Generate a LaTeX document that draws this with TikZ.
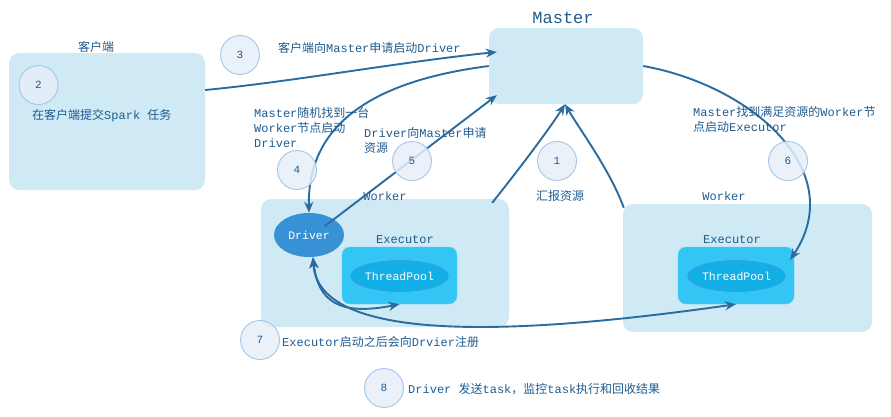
\documentclass[tikz,border=0pt]{standalone}
\usepackage{fontspec}
\setmainfont{Liberation Mono}
\newfontfamily\cjkf{Noto Sans CJK SC}
\newcommand\zh[1]{{\cjkf #1}}
\usetikzlibrary{arrows.meta,shapes.geometric}
\definecolor{boxc}{HTML}{CFE9F5}
\definecolor{execc}{HTML}{33C6F4}
\definecolor{poolc}{HTML}{12AEE6}
\definecolor{poolb}{HTML}{3C9BDA}
\definecolor{drvc}{HTML}{3891D5}
\definecolor{circf}{HTML}{E6EEF8}
\definecolor{circb}{HTML}{A4C6EA}
\definecolor{txtc}{HTML}{1F5C8F}
\definecolor{arrc}{HTML}{2A6CA0}
\tikzset{
  tip/.tip={Stealth[length=11pt,width=9pt]},
  lbox/.style={fill=boxc, rounded corners=10pt, inner sep=0pt},
  exbox/.style={fill=execc, draw=execc!80!white, rounded corners=8pt, inner sep=0pt},
  pool/.style={ellipse, fill=poolc, draw=poolb, line width=0.6pt, inner sep=0pt, minimum width=95pt, minimum height=31pt, text=white, font=\fontsize{11.5}{13}\selectfont},
  drv/.style={ellipse, fill=drvc, inner sep=0pt, minimum width=70pt, minimum height=44pt, text=white, font=\fontsize{11.5}{13}\selectfont},
  num/.style={circle, fill=circf, fill opacity=0.85, text opacity=1, draw=circb, line width=0.9pt, minimum size=39pt, inner sep=0pt, text=txtc, font=\fontsize{11}{12}\selectfont},
  lbl/.style={text=txtc, inner sep=0pt, font=\fontsize{12}{15}\selectfont},
  mlbl/.style={lbl, align=left, anchor=north west},
  conn/.style={draw=arrc, line width=1.9pt, -tip},
  conn2/.style={draw=arrc, line width=1.9pt, tip-tip},
}
\begin{document}
\begin{tikzpicture}[x=1pt,y=-1pt]
\useasboundingbox (0,0) rectangle (891,416);
% boxes
\node[lbox, minimum width=196pt, minimum height=137pt] (client) at (107,121.5) {};
\node[lbox, minimum width=154pt, minimum height=76pt] (master) at (566,66) {};
\node[lbox, minimum width=248pt, minimum height=128pt] (worker1) at (385,263) {};
\node[lbox, minimum width=249pt, minimum height=128pt] (worker2) at (747.5,268) {};
\node[exbox, minimum width=115pt, minimum height=57pt] (exec1) at (399.5,275.5) {};
\node[exbox, minimum width=116pt, minimum height=57pt] (exec2) at (736,275.5) {};
\node[pool] (pool1) at (399.5,276) {ThreadPool};
\node[pool] (pool2) at (736.5,276) {ThreadPool};
\node[drv] (driver) at (309,235) {Driver};
% connectors
\draw[conn] ([yshift=31.5pt]client.east) .. controls (290,82) and (400,62) .. ([xshift=8pt,yshift=14pt]master.west);
\draw[conn] (master.west) .. controls (380,80) and (307,120) .. (driver.north);
\draw[conn] ([xshift=16pt,yshift=9pt]driver.center) -- ([xshift=8pt,yshift=9pt]master.south west);
\draw[conn] (master.east) .. controls (750,85) and (850,170) .. ([xshift=-4pt,yshift=-13pt]exec2.north east);
\draw[conn] ([xshift=-17pt,yshift=-4pt]worker1.north east) .. controls (520,168) and (550,128) .. ([xshift=-1pt]master.south);
\draw[conn] ([xshift=1pt,yshift=-4pt]worker2.north west) .. controls (610,170) and (580,130) .. ([xshift=-1pt]master.south);
\draw[conn2] ([xshift=4pt]driver.south) .. controls (318,302) and (340,316) .. (exec1.south);
\draw[conn2] ([xshift=4pt]driver.south) .. controls (318,345) and (520,335) .. (exec2.south);
% number circles
\node[num] (n2) at (38.5,85) {2};
\node[num] (n3) at (240,55) {3};
\node[num] (n4) at (297,170) {4};
\node[num] (n5) at (412,161) {5};
\node[num] (n1) at (557,161) {1};
\node[num] (n6) at (788,161) {6};
\node[num] (n7) at (260,340) {7};
\node[num] (n8) at (384,388) {8};
% texts
\node[lbl] (tclient) at (96,47) {\zh{客户端}};
\node[lbl, anchor=west] (t2) at (32,116) {\zh{在客户端提交}Spark \zh{任务}};
\node[lbl, font=\fontsize{17}{20}\selectfont] (tmaster) at (563,18) {Master};
\node[lbl, anchor=west] (t3) at (278,48) {\zh{客户端向}Master\zh{申请启动}Driver};
\node[mlbl] (t4) at (254,107) {Master\zh{随机找到一台}\\Worker\zh{节点启动}\\Driver};
\node[mlbl] (t5) at (364,127) {Driver\zh{向}Master\zh{申请}\\\zh{资源}};
\node[lbl] (t1) at (560,196) {\zh{汇报资源}};
\node[lbl] (tw1) at (385,196) {Worker};
\node[lbl] (tw2) at (724,196) {Worker};
\node[lbl] (te1) at (405,240) {Executor};
\node[lbl] (te2) at (732,240) {Executor};
\node[mlbl] (t6) at (693,106) {Master\zh{找到满足资源的}Worker\zh{节}\\\zh{点启动}Executor};
\node[lbl, anchor=west] (t7) at (282,342) {Executor\zh{启动之后会向}Drvier\zh{注册}};
\node[lbl, anchor=west] (t8) at (408,389) {Driver \zh{发送}task\zh{，监控}task\zh{执行和回收结果}};
\end{tikzpicture}
\end{document}
